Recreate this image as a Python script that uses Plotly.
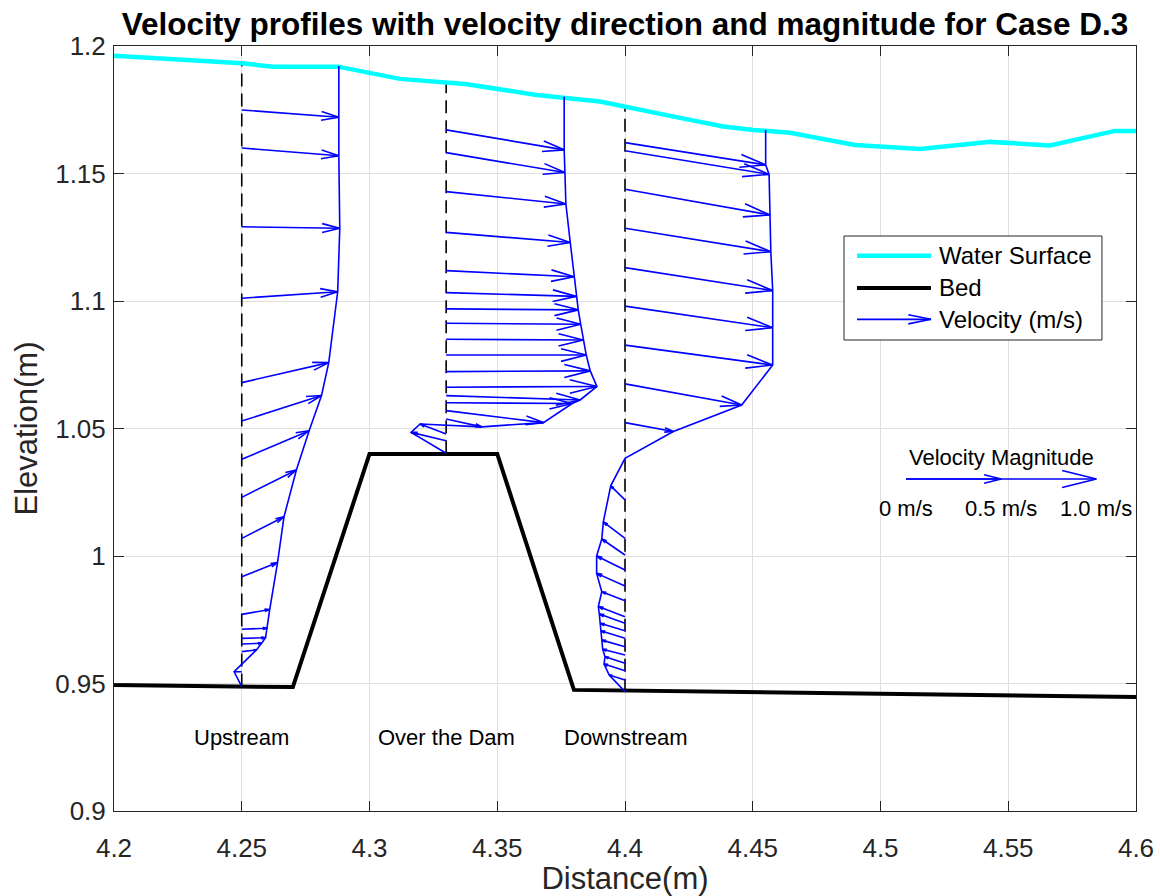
import numpy as np
import plotly.graph_objects as go

# ---------------------------------------------------------------------------
# Free surface and bed geometry (m)
# ---------------------------------------------------------------------------
surface_x = [4.2000, 4.2500, 4.2622, 4.2877, 4.3119, 4.3374, 4.3654, 4.3902, 4.4215,
             4.4385, 4.4502, 4.4646, 4.4900, 4.5155, 4.5429, 4.5663, 4.5918, 4.6000]
surface_z = [1.1962, 1.1932, 1.1919, 1.1919, 1.1871, 1.1851, 1.1808, 1.1782, 1.1718,
             1.1684, 1.1671, 1.1660, 1.1612, 1.1596, 1.1624, 1.1610, 1.1667, 1.1667]

bed_x = [4.20, 4.27, 4.30, 4.35, 4.38, 4.60]
bed_z = [0.9494, 0.9486, 1.0400, 1.0400, 0.9475, 0.9447]

# ---------------------------------------------------------------------------
# Measuring stations
# ---------------------------------------------------------------------------
station_names = ["Upstream", "Over the Dam", "Downstream"]
station_x = [4.25, 4.33, 4.40]

# Upstream profile: elevation (m), horizontal / vertical velocity (m/s)
up_z = [1.1749, 1.1600, 1.1291, 1.1011, 1.0680, 1.0529, 1.0379, 1.0230, 1.0069,
        0.9919, 0.9771, 0.9713, 0.9677, 0.9655, 0.9625, 0.9546, 0.9488]
up_u = [0.510, 0.510, 0.515, 0.504, 0.457, 0.419, 0.354, 0.287, 0.222,
        0.188, 0.147, 0.135, 0.125, 0.104, 0.077, -0.040, 0.0]
up_v = [-0.038, -0.041, -0.008, 0.034, 0.105, 0.135, 0.151, 0.144, 0.114,
        0.074, 0.026, 0.005, 0.003, 0.004, 0.009, 0.0, 0.0]

# Profile over the dam crest
dam_z = [1.1671, 1.1582, 1.1429, 1.1269, 1.1119, 1.1033, 1.0969, 1.0913, 1.0850, 1.0788,
         1.0723, 1.0662, 1.0629, 1.0601, 1.0570, 1.0537, 1.0478, 1.0452, 1.0403]
dam_u = [0.620, 0.624, 0.629, 0.652, 0.673, 0.683, 0.694, 0.707, 0.720, 0.736,
         0.757, 0.792, 0.704, 0.662, 0.511, 0.188, -0.137, -0.184, 0.0]
dam_v = [-0.105, -0.105, -0.065, -0.053, -0.032, -0.020, -0.005, -0.006, -0.004, 0.0,
         0.004, 0.004, -0.023, -0.004, -0.063, -0.041, 0.053, 0.044, 0.0]

# Downstream profile
down_z = [1.1621, 1.1589, 1.1438, 1.1285, 1.1131, 1.0980, 1.0827, 1.0675, 1.0523, 1.0383,
          1.0220, 1.0069, 1.0004, 0.9945, 0.9882, 0.9825, 0.9762, 0.9736, 0.9707, 0.9677,
          0.9644, 0.9612, 0.9579, 0.9550, 0.9514, 0.9468]
down_u = [0.739, 0.757, 0.762, 0.766, 0.776, 0.776, 0.776, 0.613, 0.254, 0.0,
          -0.075, -0.114, -0.122, -0.149, -0.149, -0.122, -0.140, -0.135, -0.131, -0.128,
          -0.122, -0.117, -0.105, -0.110, -0.083, 0.0]
down_v = [-0.117, -0.124, -0.135, -0.123, -0.121, -0.114, -0.105, -0.111, -0.047, 0.0,
          0.074, 0.087, 0.084, 0.074, 0.067, 0.047, 0.053, 0.049, 0.039, 0.040,
          0.035, 0.030, 0.035, 0.035, 0.026, 0.0]

# Elevation where each profile envelope meets the free surface (m)
profile_top_z = [1.1922, 1.1801, 1.1671]

# Velocity magnitude key
key_speeds = [0.0, 0.5, 1.0]
key_labels = ["0 m/s", "0.5 m/s", "1.0 m/s"]
key_x0 = 4.51
key_z = 1.0302

# Axis ticks
x_ticks = [4.20, 4.25, 4.30, 4.35, 4.40, 4.45, 4.50, 4.55, 4.60]
x_tick_text = ["4.2", "4.25", "4.3", "4.35", "4.4", "4.45", "4.5", "4.55", "4.6"]
y_ticks = [0.90, 0.95, 1.00, 1.05, 1.10, 1.15, 1.20]
y_tick_text = ["0.9", "0.95", "1", "1.05", "1.1", "1.15", "1.2"]

# ---------------------------------------------------------------------------
# Quiver helpers
# ---------------------------------------------------------------------------
VEL_SCALE = 0.0745   # arrow length (m) per 1 m/s
HEAD_LEN = 0.18      # head length as a fraction of the arrow
HEAD_WIDTH = 0.25    # head half-width relative to head length

BLUE = "#0000ff"
FONT = "Liberation Sans, Arial, Helvetica, sans-serif"
AX_COLOR = "#262626"
VEC_W = 1.6


def quiver_segments(x0, z, u, v):
    """Shafts and open arrow heads as one gap-separated polyline."""
    xs, ys = [], []
    for zi, ui, vi in zip(z, u, v):
        dx, dy = ui * VEL_SCALE, vi * VEL_SCALE
        if dx == 0 and dy == 0:
            continue
        tx, ty = x0 + dx, zi + dy
        xs += [x0, tx, None]
        ys += [zi, ty, None]
        hx1 = tx - HEAD_LEN * (dx + HEAD_WIDTH * dy)
        hy1 = ty - HEAD_LEN * (dy - HEAD_WIDTH * dx)
        hx2 = tx - HEAD_LEN * (dx - HEAD_WIDTH * dy)
        hy2 = ty - HEAD_LEN * (dy + HEAD_WIDTH * dx)
        xs += [hx1, tx, hx2, None]
        ys += [hy1, ty, hy2, None]
    return xs, ys


def envelope(x0, z, u, v, top_z):
    """Line through the arrow tips, closed up to the free surface."""
    tip_x = [x0 + ui * VEL_SCALE for ui in u]
    tip_z = [zi + vi * VEL_SCALE for zi, vi in zip(z, v)]
    return [tip_x[0]] + tip_x, [top_z] + tip_z


profiles = [(up_z, up_u, up_v), (dam_z, dam_u, dam_v), (down_z, down_u, down_v)]

fig = go.Figure()

# Dashed station verticals, from the lowest measurement up to the surface
for sx, (pz, pu, pv) in zip(station_x, profiles):
    top = float(np.interp(sx, surface_x, surface_z))
    fig.add_trace(go.Scatter(
        x=[sx, sx], y=[min(pz), top], mode="lines",
        line=dict(color="black", width=1.6, dash="13px,7px"),
        hoverinfo="skip", showlegend=False))

# Bed
fig.add_trace(go.Scatter(x=bed_x, y=bed_z, mode="lines", name="Bed",
                         line=dict(color="black", width=4), showlegend=False))

# Water surface
fig.add_trace(go.Scatter(x=surface_x, y=surface_z, mode="lines", name="Water Surface",
                         line=dict(color="#00ffff", width=4.5), showlegend=False))

# Velocity vectors and profile envelopes
for sx, (pz, pu, pv), tz in zip(station_x, profiles, profile_top_z):
    qx, qy = quiver_segments(sx, pz, pu, pv)
    fig.add_trace(go.Scatter(x=qx, y=qy, mode="lines", name="Velocity (m/s)",
                             line=dict(color=BLUE, width=VEC_W), showlegend=False,
                             hoverinfo="skip"))
    ex, ey = envelope(sx, pz, pu, pv, tz)
    fig.add_trace(go.Scatter(x=ex, y=ey, mode="lines",
                             line=dict(color=BLUE, width=VEC_W), showlegend=False))

# Velocity magnitude key arrows (1.0 m/s with the 0.5 m/s arrow on top)
kx, ky = quiver_segments(key_x0, [key_z] * 2, [key_speeds[2], key_speeds[1]], [0.0, 0.0])
fig.add_trace(go.Scatter(x=kx, y=ky, mode="lines", line=dict(color=BLUE, width=VEC_W),
                         showlegend=False, hoverinfo="skip"))

annotations = []
for name, sx in zip(station_names, station_x):
    annotations.append(dict(x=sx, y=0.929, xref="x", yref="y", text=name,
                            showarrow=False, font=dict(family=FONT, size=22, color="black")))

annotations.append(dict(x=key_x0 + 0.5 * VEL_SCALE, y=key_z + 0.0086, xref="x", yref="y",
                        text="Velocity Magnitude", showarrow=False,
                        font=dict(family=FONT, size=22, color="black")))
for sp, lab in zip(key_speeds, key_labels):
    annotations.append(dict(x=key_x0 + sp * VEL_SCALE, y=key_z - 0.0114, xref="x", yref="y",
                            text=lab, showarrow=False,
                            font=dict(family=FONT, size=22, color="black")))

# Legend box drawn in paper coordinates
LEG_X0, LEG_X1, LEG_Y0, LEG_Y1 = 0.7143, 0.9667, 0.6157, 0.7516
ROW_Y = [0.7259, 0.6837, 0.6427]
SAMPLE_X0, SAMPLE_X1 = 0.7270, 0.7994
TEXT_X = 0.8053
legend_items = [("Water Surface", "#00ffff", 4.5), ("Bed", "black", 4), ("Velocity (m/s)", BLUE, VEC_W)]

shapes = [dict(type="rect", xref="paper", yref="paper", x0=LEG_X0, x1=LEG_X1,
               y0=LEG_Y0, y1=LEG_Y1, line=dict(color=AX_COLOR, width=1),
               fillcolor="white", layer="above")]
for (label, col, w), ry in zip(legend_items, ROW_Y):
    shapes.append(dict(type="line", xref="paper", yref="paper", x0=SAMPLE_X0, x1=SAMPLE_X1,
                       y0=ry, y1=ry, line=dict(color=col, width=w), layer="above"))
    annotations.append(dict(x=TEXT_X, y=ry, xref="paper", yref="paper", text=label,
                            xanchor="left", yanchor="middle", showarrow=False,
                            font=dict(family=FONT, size=24, color="black")))
hx = SAMPLE_X1 - 0.0222
shapes.append(dict(type="path", xref="paper", yref="paper",
                   path=f"M {hx},{ROW_Y[2] + 0.0059} L {SAMPLE_X1},{ROW_Y[2]} L {hx},{ROW_Y[2] - 0.0059}",
                   line=dict(color=BLUE, width=VEC_W), layer="above"))

axis_common = dict(
    showgrid=True, gridcolor="#dfdfdf", gridwidth=1, zeroline=False,
    showline=True, linecolor=AX_COLOR, linewidth=1, mirror="ticks",
    ticks="inside", ticklen=10, tickcolor=AX_COLOR, tickwidth=1,
    tickfont=dict(family=FONT, size=26, color=AX_COLOR),
    automargin=False,
)

fig.update_layout(
    width=1160, height=896,
    margin=dict(l=114, r=24, t=46, b=85),
    paper_bgcolor="white", plot_bgcolor="white",
    title=dict(text="Velocity profiles with velocity direction and magnitude for Case D.3",
               x=0.5, xref="paper", y=1 - 24 / 896, yref="container", yanchor="middle",
               font=dict(family=FONT, size=31.5, color="black", weight="bold")),
    xaxis=dict(range=[4.2, 4.6], tickvals=x_ticks, ticktext=x_tick_text,
               ticklabelstandoff=14,
               title=dict(text="Distance(m)", standoff=8,
                          font=dict(family=FONT, size=31, color=AX_COLOR)),
               **axis_common),
    yaxis=dict(range=[0.9, 1.2], tickvals=y_ticks, ticktext=y_tick_text,
               ticklabelstandoff=2,
               title=dict(text="Elevation(m)", standoff=8,
                          font=dict(family=FONT, size=31, color=AX_COLOR)),
               **axis_common),
    shapes=shapes,
    annotations=annotations,
    showlegend=False,
)

fig.write_html("out.html")
